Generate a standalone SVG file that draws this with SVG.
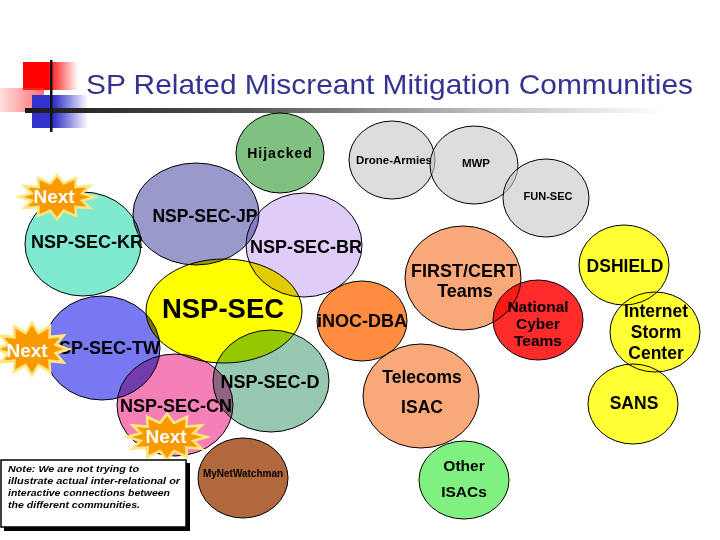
<svg xmlns="http://www.w3.org/2000/svg" width="720" height="540" viewBox="0 0 720 540">
<style>
.c{stroke:#000;stroke-width:1;mix-blend-mode:multiply}
.g{fill:#c6c6c6;fill-opacity:0.6;stroke:#000;stroke-width:1}
text{font-family:"Liberation Sans",Arial,sans-serif;font-weight:bold;fill:#000;text-anchor:middle}
.nx{fill:#fff;font-size:19px}
.note{font-style:italic;font-size:9px;text-anchor:start}
</style>
<defs>
<linearGradient id="bar" x1="0" x2="1" y1="0" y2="0">
<stop offset="0" stop-color="#1a1a1a"/><stop offset="0.35" stop-color="#555"/><stop offset="0.7" stop-color="#bbb"/><stop offset="1" stop-color="#fff"/>
</linearGradient>
<linearGradient id="red" x1="0" x2="1"><stop offset="0.45" stop-color="#ff0000"/><stop offset="1" stop-color="#ff0000" stop-opacity="0"/></linearGradient>
<linearGradient id="blue" x1="0" x2="1"><stop offset="0.4" stop-color="#3333cc"/><stop offset="1" stop-color="#3333cc" stop-opacity="0"/></linearGradient>
<linearGradient id="pink" x1="0" x2="1"><stop offset="0" stop-color="#ff3030" stop-opacity="0.15"/><stop offset="1" stop-color="#ff3030" stop-opacity="0.7"/></linearGradient>
<polygon id="star" points="38,0 25.1,3.6 32.9,11 18.4,9.9 19,19.1 6.7,13.5 0,22 -6.7,13.5 -19,19.1 -18.4,9.9 -32.9,11 -25.1,3.6 -38,0 -25.1,-3.6 -32.9,-11 -18.4,-9.9 -19,-19.1 -6.7,-13.5 0,-22 6.7,-13.5 19,-19.1 18.4,-9.9 32.9,-11 25.1,-3.6" fill="#f89a00" stroke="#ffe680" stroke-width="2.5" stroke-linejoin="miter"/>
</defs>
<rect width="720" height="540" fill="#fff"/>
<g id="title">
<rect x="23" y="62" width="55" height="28" fill="url(#red)"/>
<rect x="0" y="88" width="44" height="24" fill="url(#pink)"/>
<rect x="32" y="95" width="56" height="33" fill="url(#blue)"/>
<rect x="25" y="108" width="640" height="5" fill="url(#bar)"/>
<rect x="50" y="60" width="2.5" height="72" fill="#111"/>
<text x="86" y="94" style="font-weight:normal;font-size:28px;text-anchor:start;fill:#333393" textLength="607" lengthAdjust="spacingAndGlyphs">SP Related Miscreant Mitigation Communities</text>
</g>
<g id="nodes">
<g id="hijacked"><ellipse class="c" cx="280" cy="153" rx="44" ry="40" fill="#80c080"/><text x="280" y="158" font-size="14" letter-spacing="1">Hijacked</text></g>
<g id="drone-armies"><ellipse class="g" cx="392" cy="160" rx="43" ry="39"/><text x="394" y="164" font-size="11.5">Drone-Armies</text></g>
<g id="mwp"><ellipse class="g" cx="474" cy="165" rx="44" ry="39"/><text x="476" y="167" font-size="11.5">MWP</text></g>
<g id="fun-sec"><ellipse class="g" cx="546" cy="198" rx="43" ry="39"/><text x="548" y="200" font-size="11">FUN-SEC</text></g>
<g id="nsp-sec-kr"><ellipse class="c" cx="83" cy="244" rx="58" ry="52" fill="#80ead0"/><text x="87" y="248" font-size="18">NSP-SEC-KR</text></g>
<g id="nsp-sec-jp"><ellipse class="c" cx="196" cy="214" rx="63" ry="51" fill="#9999cc"/><text x="205" y="222" font-size="17.5">NSP-SEC-JP</text></g>
<g id="nsp-sec-br"><ellipse class="c" cx="304" cy="245" rx="58" ry="52" fill="#e0ccf8"/><text x="306" y="253" font-size="18">NSP-SEC-BR</text></g>
<g id="nsp-sec"><ellipse class="c" cx="224" cy="311" rx="78" ry="52" fill="#ffff00"/><text x="223" y="318" font-size="27.5">NSP-SEC</text></g>
<g id="nsp-sec-tw"><ellipse class="c" cx="102" cy="348" rx="58" ry="52" fill="#7878f2"/><text x="103" y="354" font-size="18">NSP-SEC-TW</text></g>
<g id="nsp-sec-d"><ellipse class="c" cx="271" cy="381" rx="58" ry="51" fill="#96c8b2"/><text x="270" y="388" font-size="18">NSP-SEC-D</text></g>
<g id="nsp-sec-cn"><ellipse class="c" cx="175" cy="405" rx="58" ry="51" fill="#f580b8"/><text x="176" y="412" font-size="18">NSP-SEC-CN</text></g>
<g id="mynetwatchman"><ellipse class="c" cx="243" cy="478" rx="45" ry="40" fill="#b0683c"/><text x="243" y="477" font-size="10">MyNetWatchman</text></g>
<g id="inoc-dba"><ellipse class="c" cx="362" cy="321" rx="45" ry="40" fill="#ff8c40"/><text x="362" y="327" font-size="18">iNOC-DBA</text></g>
<g id="first-cert"><ellipse class="c" cx="463" cy="278" rx="58" ry="52" fill="#f9a87a"/><text x="464" y="277" font-size="18">FIRST/CERT</text><text x="465" y="297" font-size="18">Teams</text></g>
<g id="national-cyber"><ellipse class="c" cx="538" cy="320" rx="45" ry="40" fill="#ff2a2a"/><text x="538" y="312" font-size="15.5">National</text><text x="538" y="329" font-size="15.5">Cyber</text><text x="538" y="346" font-size="15.5">Teams</text></g>
<g id="telecoms-isac"><ellipse class="c" cx="421" cy="396" rx="58" ry="52" fill="#f9a87a"/><text x="422" y="383" font-size="17.5">Telecoms</text><text x="422" y="413" font-size="17.5">ISAC</text></g>
<g id="other-isacs"><ellipse class="c" cx="464" cy="480" rx="45" ry="39" fill="#80f080"/><text x="464" y="471" font-size="15.5">Other</text><text x="464" y="497" font-size="15.5">ISACs</text></g>
<g id="dshield"><ellipse class="c" cx="624" cy="265" rx="45" ry="40" fill="#ffff33"/><text x="625" y="272" font-size="17.5">DSHIELD</text></g>
<g id="internet-storm-center"><ellipse class="c" cx="655" cy="332" rx="45" ry="40" fill="#ffff33"/><text x="656" y="317" font-size="17.5">Internet</text><text x="656" y="338" font-size="17.5">Storm</text><text x="656" y="359" font-size="17.5">Center</text></g>
<g id="sans"><ellipse class="c" cx="633" cy="404" rx="45" ry="40" fill="#ffff33"/><text x="634" y="409" font-size="17.5">SANS</text></g>
</g>
<g id="next-1"><use href="#star" transform="translate(57,197)"/><text class="nx" x="54" y="203">Next</text></g>
<g id="next-2"><use href="#star" transform="translate(32,349) scale(0.95,1.2)"/><text class="nx" x="27" y="357">Next</text></g>
<g id="next-3"><use href="#star" transform="translate(167,437) scale(1.05,1.05)"/><text class="nx" x="166" y="443">Next</text></g>
<g id="note">
<rect x="4" y="463" width="186" height="68" fill="#000"/>
<rect x="1" y="460" width="185" height="67" fill="#fff" stroke="#000" stroke-width="1.5"/>
<text class="note" x="8" y="472" textLength="131" lengthAdjust="spacingAndGlyphs">Note: We are not trying to</text>
<text class="note" x="8" y="484" textLength="172" lengthAdjust="spacingAndGlyphs">illustrate actual inter-relational or</text>
<text class="note" x="8" y="496" textLength="162" lengthAdjust="spacingAndGlyphs">interactive connections between</text>
<text class="note" x="8" y="508" textLength="132" lengthAdjust="spacingAndGlyphs">the different communities.</text>
</g>
<g id="connectors"/>
</svg>
